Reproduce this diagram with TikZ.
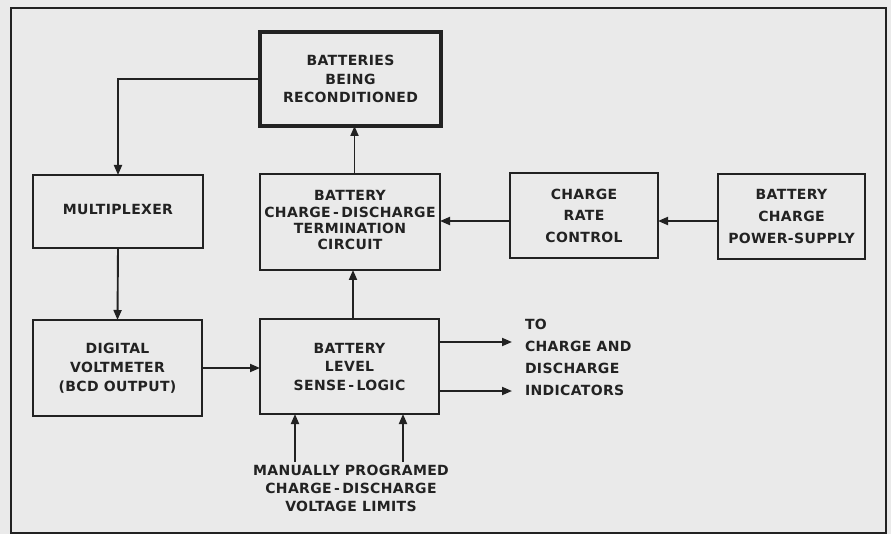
\documentclass[tikz,border=0pt]{standalone}
\usepackage{fontspec}
\setmainfont{DejaVu Sans}[LetterSpace=2.5]
\usetikzlibrary{arrows.meta}
\definecolor{ink}{HTML}{222222}
\definecolor{bg}{HTML}{EAEAEA}
\begin{document}
\begin{tikzpicture}[x=1pt,y=-1pt,
  every node/.style={font=\bfseries\fontsize{14}{18.5}\selectfont, text=ink, align=center, inner sep=0pt, outer sep=0pt},
  box/.style={draw=ink, line width=1.9pt},
  thickbox/.style={draw=ink, line width=3.4pt},
  arr/.style={draw=ink, line width=1.9pt, -{Triangle[length=10pt,width=8pt]}},
]
\fill[bg] (0,0) rectangle (891,534);
\useasboundingbox (0,0) rectangle (891,534);
\draw[ink, line width=1.5pt] (11,8) rectangle (886,533);

\node[thickbox, minimum width=181pt, minimum height=94pt] (bat) at (350.5,79) {BATTERIES\\BEING\\RECONDITIONED};
\node[box, minimum width=170pt, minimum height=73pt] (mux) at (118,211.5) {\raisebox{4.5pt}{MULTIPLEXER}};
\node[box, minimum width=180pt, minimum height=96pt, font=\bfseries\fontsize{14}{16.3}\selectfont] (term) at (350,222) {\raisebox{5pt}{\begin{tabular}{@{}c@{}}BATTERY\\CHARGE\,-\,DISCHARGE\\TERMINATION\\CIRCUIT\end{tabular}}};
\node[box, minimum width=148pt, minimum height=85pt, font=\bfseries\fontsize{14}{21.5}\selectfont] (rate) at (584,215.5) {CHARGE\\RATE\\CONTROL};
\node[box, minimum width=147pt, minimum height=85pt, font=\bfseries\fontsize{14}{22}\selectfont] (pow) at (791.5,216.5) {BATTERY\\CHARGE\\POWER-SUPPLY};
\node[box, minimum width=169pt, minimum height=96pt, font=\bfseries\fontsize{14}{19}\selectfont] (dvm) at (117.5,368) {DIGITAL\\VOLTMETER\\(BCD OUTPUT)};
\node[box, minimum width=179pt, minimum height=95pt] (sense) at (349.5,366.5) {BATTERY\\LEVEL\\SENSE\,-\,LOGIC};

\node[anchor=north west, align=left, font=\bfseries\fontsize{14}{21.9}\selectfont] (ind) at (525,319) {TO\\CHARGE AND\\DISCHARGE\\INDICATORS};
\node[font=\bfseries\fontsize{14}{18.3}\selectfont] (lim) at (351,488.5) {MANUALLY PROGRAMED\\CHARGE\,-\,DISCHARGE\\VOLTAGE LIMITS};

\coordinate (o1) at (512,342);
\coordinate (o2) at (512,391);
\coordinate (i1) at (295,462);
\coordinate (i2) at (403,462);

\draw[arr] (bat.west) -| (mux.north);
\draw[arr] ([xshift=4.5pt]term.north) -- ([xshift=4.5pt]term.north |- bat.south);
\draw[arr] (mux.south) -- (dvm.north);
\draw[arr] (dvm.east) -- (dvm.east -| sense.west);
\draw[arr] ([xshift=3.5pt]sense.north) -- ([xshift=3.5pt]sense.north |- term.south);
\draw[arr] ([yshift=-5.5pt]rate.west) -- ([yshift=-5.5pt]rate.west -| term.east);
\draw[arr] ([yshift=-4.5pt]pow.west) -- ([yshift=-4.5pt]pow.west -| rate.east);
\draw[arr] (sense.east |- o1) -- (o1);
\draw[arr] (sense.east |- o2) -- (o2);
\draw[arr] (i1) -- (i1 |- sense.south);
\draw[arr] (i2) -- (i2 |- sense.south);
\end{tikzpicture}
\end{document}
